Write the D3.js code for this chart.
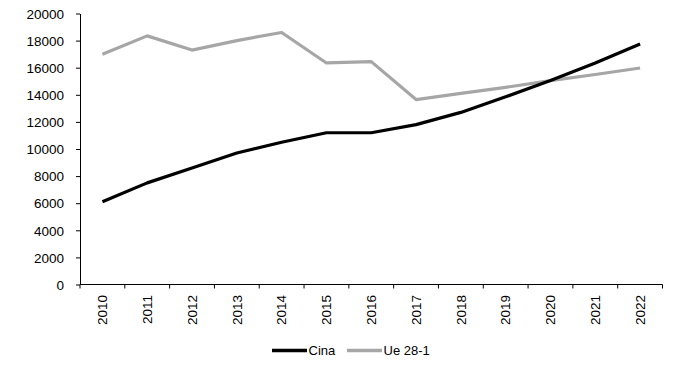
<!DOCTYPE html>
<html>
<head>
<meta charset="utf-8">
<script src="https://cdn.jsdelivr.net/npm/d3@7"></script>
<style>
  body { margin: 0; background: #fff; }
  text { font-family: "Liberation Sans", Arial, sans-serif; fill: #000; }
</style>
</head>
<body>
<div id="chart"></div>
<script>
var years = ["2010","2011","2012","2013","2014","2015","2016","2017","2018","2019","2020","2021","2022"];
var cina = [6100, 7500, 8600, 9700, 10500, 11200, 11200, 11800, 12700, 13850, 15050, 16350, 17750];
var ue = [17000, 18350, 17300, 18000, 18600, 16350, 16450, 13650, 14100, 14550, 15050, 15500, 15980];
var yTicks = [0, 2000, 4000, 6000, 8000, 10000, 12000, 14000, 16000, 18000, 20000];
var seriesNames = ["Cina", "Ue 28-1"];
var seriesColors = ["#000000", "#a6a6a6"];

var width = 700, height = 365;
var margin = {top: 13.5, right: 37.5, bottom: 80.5, left: 80};
var plotW = width - margin.left - margin.right;
var plotH = height - margin.top - margin.bottom;

var svg = d3.select("#chart").append("svg")
  .attr("width", width)
  .attr("height", height);

var g = svg.append("g")
  .attr("transform", "translate(" + margin.left + "," + margin.top + ")");

var x = d3.scaleBand().domain(years).range([0, plotW]);
var y = d3.scaleLinear().domain([0, 20000]).range([plotH, 0]);

// y axis
var yAxis = g.append("g")
  .call(d3.axisLeft(y).tickValues(yTicks).tickFormat(d3.format("d"))
    .tickSize(4).tickSizeOuter(0).tickPadding(12));
yAxis.select(".domain").attr("stroke", "#000").attr("stroke-width", 1);
yAxis.selectAll(".tick line").attr("stroke", "#000");
yAxis.selectAll("text").style("font-size", "13.5px").attr("dy", "0.35em");

// x axis, ticks on band edges
var xAxis = g.append("g")
  .attr("transform", "translate(0," + plotH + ")");
xAxis.append("line")
  .attr("x1", 0).attr("x2", plotW)
  .attr("stroke", "#000");
var edges = years.map(function(d) { return x(d); }).concat([plotW]);
xAxis.selectAll("line.tk")
  .data(edges)
  .enter()
  .append("line")
  .attr("class", "tk")
  .attr("x1", function(d) { return d; })
  .attr("x2", function(d) { return d; })
  .attr("y1", 0)
  .attr("y2", 4)
  .attr("stroke", "#000");
xAxis.selectAll("text")
  .data(years)
  .enter()
  .append("text")
  .attr("transform", function(d) {
    return "translate(" + (x(d) + x.bandwidth() / 2) + ",10.5) rotate(-90)";
  })
  .attr("text-anchor", "end")
  .attr("dy", "0.35em")
  .style("font-size", "13.5px")
  .text(function(d) { return d; });

// lines
var line = d3.line()
  .x(function(d, i) { return x(years[i]) + x.bandwidth() / 2; })
  .y(function(d) { return y(d); });

[ue, cina].forEach(function(values, k) {
  var idx = k == 0 ? 1 : 0;
  g.append("path")
    .datum(values)
    .attr("fill", "none")
    .attr("stroke", seriesColors[idx])
    .attr("stroke-width", 3.2)
    .attr("stroke-linejoin", "round")
    .attr("d", line);
});

// legend
var legend = svg.append("g").attr("transform", "translate(0,350.5)");
var legendX = [272, 347];
seriesNames.forEach(function(name, i) {
  legend.append("line")
    .attr("x1", legendX[i]).attr("x2", legendX[i] + 35)
    .attr("stroke", seriesColors[i])
    .attr("stroke-width", 3.5);
  legend.append("text")
    .attr("x", legendX[i] + 36.5)
    .attr("dy", "0.35em")
    .style("font-size", "13px")
    .text(name);
});
</script>
</body>
</html>
